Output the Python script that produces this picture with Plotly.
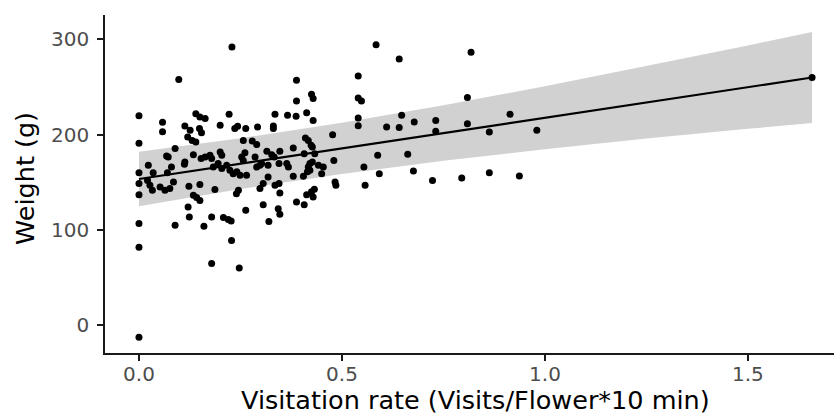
import plotly.graph_objects as go

# Scatter data: visitation rate (x) and weight (y)
visit_rate = [
    0, 0, 0, 0, 0, 0, 0, 0,
    0.058, 0.058, 0.14, 0.15, 0.163, 0.2, 0.222,
    0.113, 0.126, 0.149, 0.154,
    0.12, 0.131, 0.14,
    0.089, 0.068, 0.072, 0.134,
    0.153, 0.163, 0.175, 0.179, 0.2, 0.204,
    0.112, 0.113, 0.023, 0.08, 0.035, 0.07,
    0.183, 0.195, 0.204,
    0.021, 0.027, 0.052, 0.064, 0.076, 0.085,
    0.033, 0.123, 0.15, 0.134, 0.142, 0.15, 0.187, 0.121,
    0.124, 0.089, 0.16, 0.179, 0.208, 0.22, 0.227, 0.263, 0.306, 0.32,
    0.347, 0.407, 0.228, 0.179, 0.247,
    0.388, 0.429, 0.335, 0.366, 0.387, 0.413, 0.429,
    0.236, 0.243, 0.263, 0.292, 0.331, 0.331, 0.477,
    0.257, 0.279, 0.29, 0.41, 0.417, 0.424, 0.427, 0.38,
    0.261, 0.253, 0.257, 0.286, 0.315, 0.327, 0.333, 0.347, 0.407, 0.433,
    0.216, 0.224, 0.232, 0.241, 0.249, 0.265,
    0.29, 0.298, 0.302, 0.318, 0.345, 0.364, 0.368,
    0.421, 0.417, 0.427, 0.442, 0.454, 0.45, 0.48,
    0.318, 0.38, 0.405, 0.415, 0.421,
    0.245, 0.24, 0.306, 0.298, 0.335, 0.345, 0.347, 0.483, 0.485,
    0.413, 0.425, 0.432, 0.429,
    0.343, 0.388,
    0.229, 0.098, 0.388, 0.425,
    0.584, 0.641, 0.818, 0.54, 0.54, 0.548, 0.809, 0.54, 0.54, 0.647,
    0.61, 0.641, 0.678, 0.731, 0.731, 0.809, 0.863, 0.914, 0.98,
    0.588, 0.662, 0.554, 0.592, 0.676, 0.723, 0.795, 0.863, 0.937, 0.557,
    1.658,
]
weight = [
    220, 191, 160, 148.7, 137, 106.7, 82, -12.6,
    213, 203, 222, 218.6, 217, 210, 221.5,
    209, 204.6, 206.4, 202,
    197.6, 194, 192.3,
    185.4, 177.7, 176.6, 179,
    175, 176.6, 178.4, 175, 181.8, 178.4,
    169, 171.4, 168, 166, 160, 160,
    166, 169.7, 164.4,
    152, 147, 145, 141.7, 143.4, 150.4,
    141.7, 146, 147.6, 136.4, 134, 131, 142.4, 124,
    113.6, 105, 104, 113.6, 113, 111, 109.4, 120.7, 126.6, 109,
    116.5, 126.6, 89, 64.7, 60,
    235.4, 238, 221.4, 220.4, 219.3, 223, 215,
    206.4, 208.8, 206.4, 208, 209, 206.4, 200,
    194, 193.4, 189.6, 196.5, 194, 188.9, 187, 186,
    181, 176.6, 173, 176.6, 182.6, 179, 176.6, 182.6, 180, 180,
    168, 162.6, 159, 161, 157.4, 157.4,
    166, 168, 169.7, 168, 169.7, 169.7, 166,
    169.7, 166, 171.4, 168, 166, 159, 173,
    155.6, 156.4, 156.4, 161, 162.6,
    141.7, 138, 148.7, 143.4, 147, 148.7, 138.8, 150.4, 147,
    137, 140, 142.7, 134.6,
    122.4, 129.4,
    292, 258, 257, 242.4,
    294.5, 279.5, 286.5, 261.6, 238.5, 235.4, 239, 217.5, 209.5, 220.4,
    208, 207.5, 213.3, 215, 203.6, 211.6, 202.8, 221.4, 204.6,
    178.4, 179.4, 166, 159, 162, 152, 154.6, 160, 156.7, 147,
    259.9,
]

# Fitted line and confidence band
fit_x = [0, 0.25, 0.5, 0.75, 1.0, 1.25, 1.5, 1.658]
fit_y = [153.5, 169.6, 185.7, 201.7, 217.8, 233.9, 249.9, 260.0]
fit_upper = [182.0, 196.3, 212.6, 230.8, 250.8, 271.9, 293.7, 307.7]
fit_lower = [125.0, 142.9, 158.8, 172.6, 184.8, 195.9, 206.1, 212.3]

x_ticks = [0.0, 0.5, 1.0, 1.5]
x_tick_text = ["0.0", "0.5", "1.0", "1.5"]
y_ticks = [0, 100, 200, 300]

fig = go.Figure()

fig.add_trace(go.Scatter(
    x=fit_x + fit_x[::-1],
    y=fit_upper + fit_lower[::-1],
    fill="toself",
    fillcolor="rgba(153,153,153,0.45)",
    line=dict(width=0),
    mode="lines",
    hoverinfo="skip",
    showlegend=False,
))

fig.add_trace(go.Scatter(
    x=visit_rate, y=weight, mode="markers",
    marker=dict(color="black", size=7, line=dict(width=0)),
    showlegend=False,
))

fig.add_trace(go.Scatter(
    x=fit_x, y=fit_y, mode="lines",
    line=dict(color="black", width=2.2),
    showlegend=False,
))

axis_font = dict(family="DejaVu Sans", size=20, color="#4D4D4D")
title_font = dict(family="DejaVu Sans", size=25.5, color="black")

fig.update_layout(
    width=834, height=415,
    margin=dict(l=105, r=0, t=15, b=62),
    plot_bgcolor="white", paper_bgcolor="white",
    xaxis=dict(
        range=[-0.0837, 1.712],
        tickvals=x_ticks, ticktext=x_tick_text,
        showgrid=False, zeroline=False,
        showline=True, linecolor="#1a1a1a", linewidth=1.5,
        ticks="outside", ticklen=6, tickwidth=1.5, tickcolor="#1a1a1a",
        tickfont=axis_font, ticklabelstandoff=-4,
    ),
    yaxis=dict(
        range=[-29.1, 325.6],
        tickvals=y_ticks,
        showgrid=False, zeroline=False,
        showline=True, linecolor="#1a1a1a", linewidth=1.5,
        ticks="outside", ticklen=6, tickwidth=1.5, tickcolor="#1a1a1a",
        tickfont=axis_font, ticklabelstandoff=4,
    ),
    annotations=[
        dict(text="Visitation rate (Visits/Flower*10 min)",
             xref="paper", yref="paper", x=0.508, y=-0.138,
             xanchor="center", yanchor="middle", showarrow=False,
             font=title_font),
        dict(text="Weight (g)",
             xref="paper", yref="paper", x=-0.1097, y=0.515,
             xanchor="center", yanchor="middle", showarrow=False, textangle=-90,
             font=title_font),
    ],
)

fig.write_html("out.html")
